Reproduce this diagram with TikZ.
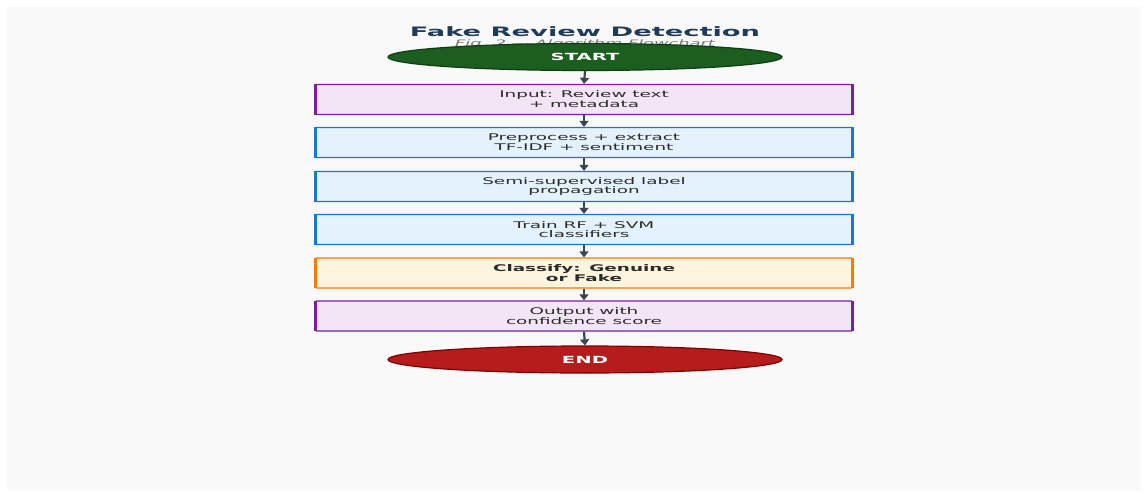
\documentclass[tikz,border=0pt]{standalone}
\usepackage{fontspec}
\usetikzlibrary{shapes.geometric,arrows.meta}
\newfontfamily\widefont[FakeStretch=2.0]{DejaVu Sans}
\newfontfamily\titlefont[FakeStretch=2.1]{DejaVu Sans}
\definecolor{bgc}{HTML}{F9F9F9}
\definecolor{titlec}{HTML}{1F3B5C}
\definecolor{capc}{HTML}{777777}
\definecolor{startf}{HTML}{1B5E20}
\definecolor{startd}{HTML}{0F3D14}
\definecolor{endf}{HTML}{B71C1C}
\definecolor{endd}{HTML}{7F0000}
\definecolor{purf}{HTML}{F3E5F5}
\definecolor{purd}{HTML}{7B1FA2}
\definecolor{bluf}{HTML}{E3F2FD}
\definecolor{blud}{HTML}{1976D2}
\definecolor{oraf}{HTML}{FFF5DE}
\definecolor{orad}{HTML}{F57C00}
\definecolor{arrc}{HTML}{37474F}
\definecolor{txtc}{HTML}{2B2B2B}
\tikzset{
  term/.style={ellipse, minimum width=394pt, minimum height=27pt, inner sep=0pt,
    line width=1.2pt, text=white, font=\widefont\bfseries\fontsize{9.8}{10}\selectfont},
  procbox/.style={rectangle, rounded corners=1.5pt, minimum width=538pt, minimum height=30pt,
    inner sep=0pt, line width=1.3pt, text=txtc, align=center,
    font=\widefont\fontsize{9.2}{8.5}\selectfont},
  flowarrow/.style={draw=arrc, line width=2.2pt, -{Triangle[width=9pt,length=6pt]}},
}
\newcommand{\sideedges}[2]{%
  \draw[#2, line width=3.5pt] ([xshift=1.2pt,yshift=-0.5pt]#1.north west) -- ([xshift=1.2pt,yshift=0.5pt]#1.south west);
  \draw[#2, line width=3.5pt] ([xshift=-1.2pt,yshift=-0.5pt]#1.north east) -- ([xshift=-1.2pt,yshift=0.5pt]#1.south east);
}
\begin{document}
\begin{tikzpicture}[x=1pt,y=1pt]
\useasboundingbox (0,0) rectangle (1147,-492);
\fill[white] (0,0) rectangle (1147,-492);
\fill[bgc] (7,-7) rectangle (1141,-491);

\node[text=titlec, font=\titlefont\bfseries\fontsize{13}{13}\selectfont] (title) at (585,-31.5) {Fake Review Detection};
\node[text=capc, font=\widefont\itshape\fontsize{8.9}{9}\selectfont] (cap) at (585,-44) {Fig. 2 — Algorithm Flowchart};

\node[term, fill=startf, draw=startd] (start) at (585,-57) {START};

\node[procbox, fill=purf, draw=purd] (b1) at (584,-99.5) {Input: Review text\\+ metadata};
\node[procbox, fill=bluf, draw=blud] (b2) at (584,-142.5) {Preprocess + extract\\TF-IDF + sentiment};
\node[procbox, fill=bluf, draw=blud] (b3) at (584,-186.5) {Semi-supervised label\\propagation};
\node[procbox, fill=bluf, draw=blud] (b4) at (584,-229.5) {Train RF + SVM\\classifiers};
\node[procbox, fill=oraf, draw=orad, font=\widefont\bfseries\fontsize{9.2}{8.5}\selectfont] (b5) at (584,-273) {Classify: Genuine\\or Fake};
\node[procbox, fill=purf, draw=purd] (b6) at (584,-316) {Output with\\confidence score};

\sideedges{b1}{purd}
\sideedges{b2}{blud}
\sideedges{b3}{blud}
\sideedges{b4}{blud}
\sideedges{b5}{orad}
\sideedges{b6}{purd}

\node[term, fill=endf, draw=endd] (end) at (585,-359.5) {END};

\draw[flowarrow] (start.south) -- (b1.north);
\draw[flowarrow] (b1.south) -- (b2.north);
\draw[flowarrow] (b2.south) -- (b3.north);
\draw[flowarrow] (b3.south) -- (b4.north);
\draw[flowarrow] (b4.south) -- (b5.north);
\draw[flowarrow] (b5.south) -- (b6.north);
\draw[flowarrow] (b6.south) -- (end.north);
\end{tikzpicture}
\end{document}
